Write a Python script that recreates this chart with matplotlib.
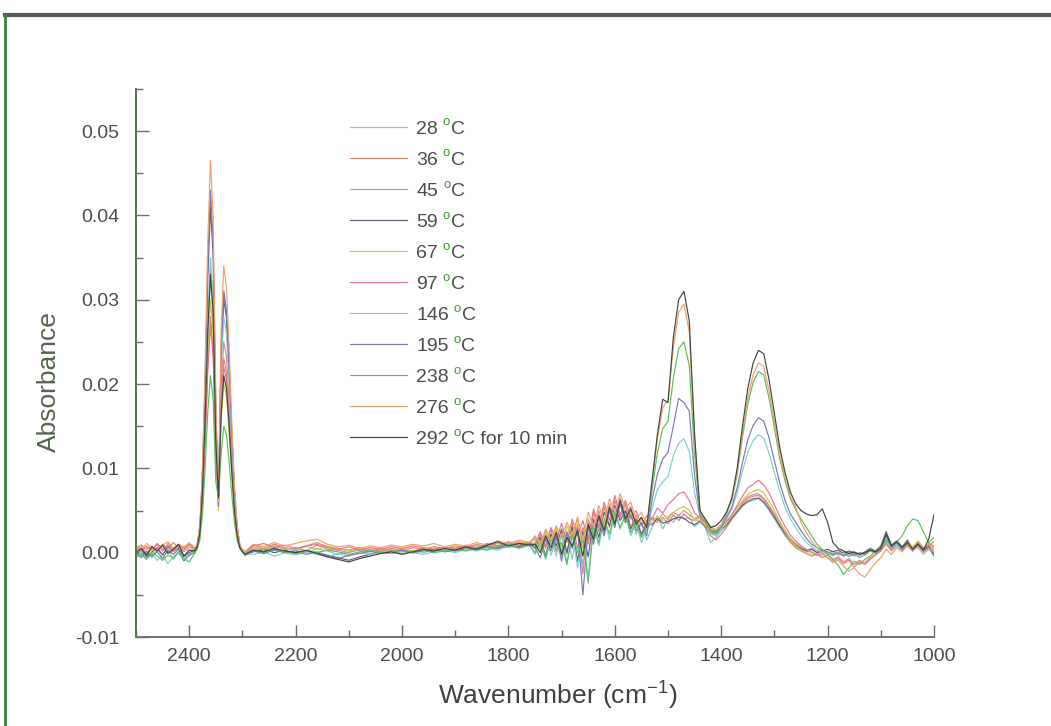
import matplotlib
matplotlib.use("Agg")
import matplotlib.pyplot as plt
from matplotlib.ticker import MultipleLocator, FormatStrFormatter
from matplotlib.lines import Line2D
import matplotlib.transforms as mtransforms

plt.rcParams['font.family'] = ['Liberation Sans', 'DejaVu Sans']
plt.rcParams['mathtext.fontset'] = 'custom'
plt.rcParams['mathtext.rm'] = 'Liberation Sans'
plt.rcParams['mathtext.it'] = 'Liberation Sans'

# wavenumber grid (cm-1), shared by all spectra
wavenumber = [
    2500, 2490, 2480, 2470, 2460, 2450, 2440, 2430, 2420, 2410, 2400, 2390,
    2385, 2380, 2375, 2370, 2365, 2360, 2355, 2350, 2345, 2340, 2335, 2330,
    2325, 2320, 2315, 2310, 2305, 2300, 2295,
    2280, 2260, 2240, 2220, 2200, 2180, 2160, 2140, 2120, 2100, 2080, 2060,
    2040, 2020, 2000, 1980, 1960, 1940, 1920, 1900, 1880, 1860, 1840, 1820,
    1800, 1780, 1760,
    1750, 1740, 1730, 1720, 1710, 1700, 1690, 1680, 1670, 1660, 1650, 1640,
    1630, 1620, 1610, 1600, 1590, 1580, 1570, 1560, 1550, 1540,
    1530, 1520, 1510, 1500, 1490, 1480, 1470, 1460, 1450, 1440, 1430, 1420,
    1410, 1400, 1390, 1380, 1370, 1360, 1350, 1340, 1330, 1320, 1310, 1300,
    1290, 1280, 1270, 1260,
    1250, 1240, 1230, 1220, 1210, 1200, 1190, 1180, 1170, 1160, 1150, 1140,
    1130, 1120, 1110, 1100, 1090, 1080, 1070, 1060, 1050, 1040, 1030, 1020,
    1010, 1000,
]

a_28 = [
    0.0002, -0.0004, 0.0001, -0.0006, 0.0003, -0.0002, 0.0004, -0.0008, 0.0000, -0.0005, -0.0003, 0.0002,
    0.0007, 0.0025, 0.0077, 0.0168, 0.0280, 0.0350, 0.0301, 0.0140, 0.0065, 0.0242, 0.0310, 0.0288, 0.0223, 0.0143, 0.0074, 0.0031, 0.0009, 0.0003, -0.0002,
    0.0004, 0.0002, 0.0006, 0.0001, 0.0003, 0.0000, 0.0005, 0.0002, -0.0002, 0.0001, 0.0003, -0.0001, 0.0002, 0.0004, 0.0001, 0.0003, 0.0000, 0.0004, 0.0002, 0.0005, 0.0003, 0.0007, 0.0004, 0.0009, 0.0006, 0.0011, 0.0008,
    0.0012, 0.0004, 0.0020, -0.0003, 0.0015, 0.0002, 0.0026, -0.0008, 0.0030, -0.0015, 0.0038, 0.0012, 0.0045, 0.0020, 0.0052, 0.0035, 0.0060, 0.0038, 0.0050, 0.0022, 0.0035, 0.0015,
    0.0030, 0.0044, 0.0028, 0.0041, 0.0036, 0.0045, 0.0039, 0.0042, 0.0031, 0.0036, 0.0030, 0.0012, 0.0018, 0.0026, 0.0031, 0.0040, 0.0047, 0.0055, 0.0060, 0.0062, 0.0064, 0.0059, 0.0050, 0.0040, 0.0030, 0.0020, 0.0012, 0.0006,
    0.0004, 0.0002, 0.0000, -0.0002, 0.0001, -0.0001, -0.0004, 0.0000, -0.0003, 0.0001, -0.0002, -0.0006, -0.0003, 0.0002, -0.0001, 0.0004, 0.0012, 0.0003, 0.0008, 0.0002, 0.0010, 0.0004, 0.0012, 0.0001, 0.0007, 0.0003,
]

a_36 = [
    0.0006, 0.0009, 0.0004, 0.0008, 0.0002, 0.0010, 0.0005, 0.0012, 0.0006, 0.0003, 0.0009, 0.0004,
    0.0006, 0.0020, 0.0062, 0.0134, 0.0224, 0.0280, 0.0241, 0.0112, 0.0070, 0.0179, 0.0230, 0.0214, 0.0166, 0.0106, 0.0055, 0.0023, 0.0007, 0.0004, 0.0001,
    0.0009, 0.0005, 0.0010, 0.0006, 0.0004, 0.0008, 0.0012, 0.0007, 0.0005, 0.0003, 0.0006, 0.0004, 0.0002, 0.0005, 0.0003, 0.0006, 0.0004, 0.0007, 0.0005, 0.0008, 0.0006, 0.0010, 0.0007, 0.0012, 0.0009, 0.0013, 0.0010,
    0.0008, 0.0022, 0.0005, 0.0028, 0.0001, 0.0024, -0.0002, 0.0035, 0.0005, 0.0030, 0.0010, 0.0048, 0.0025, 0.0055, 0.0030, 0.0062, 0.0042, 0.0058, 0.0030, 0.0045, 0.0020, 0.0038,
    0.0040, 0.0036, 0.0042, 0.0034, 0.0045, 0.0038, 0.0046, 0.0040, 0.0038, 0.0043, 0.0030, 0.0020, 0.0015, 0.0022, 0.0030, 0.0040, 0.0049, 0.0058, 0.0064, 0.0067, 0.0068, 0.0063, 0.0055, 0.0045, 0.0033, 0.0022, 0.0013, 0.0006,
    0.0002, -0.0001, -0.0004, -0.0002, -0.0006, -0.0003, -0.0008, -0.0005, -0.0011, -0.0007, -0.0014, -0.0009, -0.0012, -0.0006, -0.0002, 0.0003, 0.0010, 0.0002, 0.0009, 0.0003, 0.0011, 0.0005, 0.0013, 0.0004, 0.0010, 0.0006,
]

a_45 = [
    0.0003, 0.0007, -0.0001, 0.0005, 0.0009, 0.0002, 0.0011, 0.0004, 0.0008, 0.0001, 0.0006, 0.0005,
    0.0007, 0.0023, 0.0073, 0.0158, 0.0264, 0.0330, 0.0284, 0.0132, 0.0060, 0.0195, 0.0250, 0.0233, 0.0180, 0.0115, 0.0060, 0.0025, 0.0008, 0.0002, 0.0000,
    0.0006, 0.0003, 0.0008, 0.0004, 0.0006, 0.0002, 0.0009, 0.0004, 0.0003, 0.0000, 0.0004, 0.0001, 0.0005, 0.0002, 0.0004, 0.0001, 0.0006, 0.0003, 0.0007, 0.0004, 0.0008, 0.0005, 0.0010, 0.0006, 0.0012, 0.0008, 0.0011,
    0.0018, 0.0006, 0.0025, 0.0010, 0.0030, -0.0004, 0.0020, 0.0008, 0.0033, -0.0025, 0.0040, 0.0022, 0.0050, 0.0028, 0.0058, 0.0040, 0.0065, 0.0045, 0.0055, 0.0032, 0.0042, 0.0026,
    0.0042, 0.0038, 0.0046, 0.0040, 0.0048, 0.0044, 0.0050, 0.0045, 0.0040, 0.0044, 0.0039, 0.0031, 0.0027, 0.0033, 0.0037, 0.0045, 0.0053, 0.0060, 0.0066, 0.0069, 0.0070, 0.0065, 0.0056, 0.0046, 0.0036, 0.0026, 0.0017, 0.0011,
    0.0007, 0.0003, 0.0005, 0.0001, 0.0003, -0.0001, 0.0002, -0.0002, 0.0001, -0.0004, -0.0001, -0.0005, 0.0000, 0.0004, 0.0001, 0.0007, 0.0016, 0.0006, 0.0011, 0.0004, 0.0013, 0.0007, 0.0009, 0.0002, 0.0011, 0.0008,
]

a_59 = [
    -0.0002, 0.0003, -0.0005, 0.0001, 0.0006, -0.0003, 0.0008, 0.0002, 0.0005, -0.0004, 0.0000, 0.0003,
    0.0008, 0.0029, 0.0090, 0.0197, 0.0328, 0.0410, 0.0353, 0.0164, 0.0055, 0.0234, 0.0300, 0.0279, 0.0216, 0.0138, 0.0072, 0.0030, 0.0009, 0.0001, -0.0003,
    0.0001, 0.0004, 0.0000, 0.0003, -0.0001, 0.0002, 0.0000, -0.0003, -0.0006, -0.0009, -0.0005, -0.0002, 0.0001, -0.0001, 0.0002, 0.0000, 0.0003, 0.0001, 0.0004, 0.0002, 0.0005, 0.0003, 0.0008, 0.0005, 0.0010, 0.0007, 0.0012,
    0.0005, 0.0018, -0.0004, 0.0022, 0.0008, 0.0028, 0.0000, 0.0030, -0.0010, 0.0025, -0.0005, 0.0040, 0.0018, 0.0048, 0.0032, 0.0056, 0.0038, 0.0050, 0.0028, 0.0040, 0.0022, 0.0034,
    0.0033, 0.0041, 0.0035, 0.0037, 0.0040, 0.0042, 0.0041, 0.0036, 0.0033, 0.0038, 0.0032, 0.0024, 0.0022, 0.0028, 0.0033, 0.0041, 0.0049, 0.0056, 0.0061, 0.0064, 0.0065, 0.0060, 0.0052, 0.0042, 0.0032, 0.0023, 0.0015, 0.0009,
    0.0005, 0.0002, 0.0004, 0.0000, 0.0002, 0.0004, 0.0001, 0.0003, -0.0001, 0.0002, 0.0000, -0.0002, 0.0001, 0.0005, 0.0002, 0.0008, 0.0025, 0.0009, 0.0014, 0.0007, 0.0015, 0.0004, 0.0012, 0.0003, 0.0008, -0.0002,
]

a_67 = [
    0.0004, 0.0001, 0.0006, -0.0002, 0.0004, 0.0008, 0.0001, 0.0006, 0.0003, 0.0007, 0.0002, 0.0005,
    0.0006, 0.0021, 0.0066, 0.0144, 0.0240, 0.0300, 0.0258, 0.0120, 0.0050, 0.0156, 0.0200, 0.0186, 0.0144, 0.0092, 0.0048, 0.0020, 0.0006, 0.0003, 0.0001,
    0.0007, 0.0004, 0.0009, 0.0005, 0.0003, 0.0007, 0.0004, 0.0008, 0.0005, 0.0002, 0.0005, 0.0003, 0.0006, 0.0003, 0.0005, 0.0002, 0.0004, 0.0006, 0.0003, 0.0007, 0.0005, 0.0009, 0.0006, 0.0011, 0.0008, 0.0010, 0.0013,
    0.0015, 0.0003, 0.0024, 0.0012, 0.0028, 0.0006, 0.0032, 0.0015, 0.0040, 0.0005, 0.0036, 0.0018, 0.0046, 0.0032, 0.0054, 0.0040, 0.0060, 0.0035, 0.0048, 0.0030, 0.0040, 0.0028,
    0.0037, 0.0042, 0.0038, 0.0043, 0.0048, 0.0052, 0.0055, 0.0050, 0.0038, 0.0039, 0.0033, 0.0025, 0.0023, 0.0029, 0.0035, 0.0044, 0.0053, 0.0062, 0.0069, 0.0073, 0.0075, 0.0071, 0.0061, 0.0050, 0.0037, 0.0025, 0.0015, 0.0008,
    0.0003, 0.0000, -0.0003, -0.0001, -0.0004, 0.0000, -0.0002, 0.0001, -0.0003, 0.0000, -0.0004, -0.0001, -0.0003, 0.0002, 0.0000, 0.0005, 0.0011, 0.0004, 0.0009, 0.0005, 0.0012, 0.0007, 0.0014, 0.0006, 0.0010, 0.0004,
]

a_97 = [
    0.0005, 0.0002, 0.0008, 0.0003, 0.0011, 0.0004, 0.0007, 0.0001, 0.0009, 0.0005, 0.0010, 0.0006,
    0.0005, 0.0019, 0.0059, 0.0130, 0.0216, 0.0270, 0.0232, 0.0108, 0.0065, 0.0172, 0.0220, 0.0205, 0.0158, 0.0101, 0.0053, 0.0022, 0.0007, 0.0002, 0.0000,
    0.0008, 0.0011, 0.0006, 0.0009, 0.0005, 0.0008, 0.0010, 0.0006, 0.0004, 0.0007, 0.0003, 0.0006, 0.0004, 0.0007, 0.0005, 0.0008, 0.0006, 0.0004, 0.0007, 0.0005, 0.0009, 0.0006, 0.0011, 0.0008, 0.0013, 0.0009, 0.0012,
    0.0010, 0.0025, 0.0008, 0.0030, 0.0014, 0.0035, 0.0012, 0.0040, 0.0020, 0.0038, 0.0015, 0.0052, 0.0030, 0.0060, 0.0038, 0.0068, 0.0045, 0.0062, 0.0040, 0.0050, 0.0032, 0.0044,
    0.0040, 0.0053, 0.0047, 0.0057, 0.0063, 0.0070, 0.0072, 0.0062, 0.0047, 0.0041, 0.0036, 0.0027, 0.0025, 0.0031, 0.0037, 0.0045, 0.0056, 0.0067, 0.0077, 0.0081, 0.0086, 0.0080, 0.0071, 0.0057, 0.0043, 0.0031, 0.0021, 0.0014,
    0.0008, 0.0004, 0.0001, -0.0003, -0.0001, -0.0006, -0.0010, -0.0007, -0.0013, -0.0009, -0.0017, -0.0011, -0.0014, -0.0008, -0.0003, 0.0002, 0.0012, 0.0004, 0.0010, 0.0003, 0.0008, 0.0002, 0.0011, 0.0005, 0.0009, 0.0013,
]

a_146 = [
    -0.0004, 0.0000, -0.0007, -0.0002, -0.0009, -0.0003, -0.0013, -0.0005, -0.0001, -0.0008, -0.0002, 0.0001,
    0.0007, 0.0024, 0.0075, 0.0163, 0.0272, 0.0340, 0.0292, 0.0136, 0.0060, 0.0218, 0.0280, 0.0260, 0.0202, 0.0129, 0.0067, 0.0028, 0.0008, 0.0003, -0.0001,
    -0.0002, 0.0001, -0.0004, 0.0000, -0.0003, 0.0001, -0.0002, -0.0005, -0.0001, -0.0004, 0.0000, -0.0002, 0.0001, -0.0001, 0.0002, 0.0000, -0.0002, 0.0001, 0.0003, 0.0000, 0.0004, 0.0002, 0.0006, 0.0003, 0.0008, 0.0005, 0.0009,
    -0.0002, 0.0012, -0.0008, 0.0016, -0.0004, 0.0020, -0.0012, 0.0024, -0.0018, 0.0020, -0.0030, 0.0034, 0.0008, 0.0042, 0.0015, 0.0050, 0.0028, 0.0046, 0.0020, 0.0036, 0.0012, 0.0028,
    0.0052, 0.0075, 0.0084, 0.0090, 0.0115, 0.0130, 0.0135, 0.0120, 0.0071, 0.0043, 0.0037, 0.0022, 0.0020, 0.0027, 0.0040, 0.0052, 0.0071, 0.0097, 0.0119, 0.0133, 0.0140, 0.0136, 0.0118, 0.0095, 0.0073, 0.0054, 0.0040, 0.0030,
    0.0020, 0.0012, 0.0007, 0.0003, 0.0001, -0.0002, 0.0000, -0.0003, -0.0001, -0.0005, -0.0002, -0.0004, 0.0000, 0.0003, 0.0001, 0.0006, 0.0014, 0.0005, 0.0010, 0.0001, 0.0009, 0.0003, 0.0006, -0.0002, 0.0004, 0.0001,
]

a_195 = [
    -0.0001, -0.0006, 0.0002, -0.0004, 0.0001, -0.0007, 0.0003, -0.0002, 0.0004, -0.0010, -0.0003, 0.0000,
    0.0009, 0.0030, 0.0095, 0.0206, 0.0344, 0.0430, 0.0370, 0.0172, 0.0055, 0.0242, 0.0310, 0.0288, 0.0223, 0.0143, 0.0074, 0.0031, 0.0009, 0.0002, -0.0002,
    0.0002, -0.0001, 0.0003, 0.0000, 0.0002, -0.0002, 0.0001, -0.0004, -0.0007, -0.0003, -0.0001, 0.0002, -0.0001, 0.0001, 0.0003, 0.0000, 0.0002, 0.0004, 0.0001, 0.0003, 0.0006, 0.0004, 0.0007, 0.0005, 0.0009, 0.0006, 0.0010,
    0.0006, -0.0006, 0.0016, 0.0002, 0.0020, -0.0010, 0.0024, 0.0005, 0.0028, -0.0050, 0.0030, 0.0010, 0.0042, 0.0020, 0.0050, 0.0030, 0.0058, 0.0036, 0.0045, 0.0026, 0.0036, 0.0020,
    0.0062, 0.0093, 0.0111, 0.0119, 0.0150, 0.0183, 0.0178, 0.0168, 0.0091, 0.0045, 0.0036, 0.0026, 0.0024, 0.0030, 0.0042, 0.0054, 0.0077, 0.0107, 0.0134, 0.0151, 0.0160, 0.0156, 0.0136, 0.0109, 0.0083, 0.0062, 0.0046, 0.0036,
    0.0026, 0.0017, 0.0010, 0.0006, 0.0003, 0.0001, -0.0002, 0.0000, -0.0004, -0.0001, -0.0003, 0.0000, -0.0002, 0.0003, 0.0000, 0.0005, 0.0020, 0.0006, 0.0012, 0.0004, 0.0010, 0.0002, 0.0009, 0.0001, 0.0006, -0.0004,
]

a_238 = [
    -0.0005, -0.0002, -0.0008, 0.0000, -0.0004, -0.0009, -0.0003, -0.0006, 0.0001, -0.0007, -0.0011, -0.0001,
    0.0004, 0.0015, 0.0046, 0.0101, 0.0168, 0.0210, 0.0181, 0.0084, 0.0065, 0.0117, 0.0150, 0.0140, 0.0108, 0.0069, 0.0036, 0.0015, 0.0005, 0.0001, -0.0001,
    0.0003, 0.0000, 0.0004, 0.0001, -0.0001, 0.0002, 0.0000, 0.0003, 0.0001, -0.0002, 0.0001, 0.0003, 0.0000, 0.0002, -0.0001, 0.0001, 0.0003, 0.0000, 0.0002, 0.0004, 0.0002, 0.0005, 0.0003, 0.0007, 0.0010, 0.0006, 0.0009,
    0.0000, 0.0014, -0.0006, 0.0018, 0.0004, 0.0012, -0.0014, 0.0022, 0.0000, 0.0016, -0.0036, 0.0030, 0.0012, 0.0040, 0.0022, 0.0048, 0.0030, 0.0044, 0.0024, 0.0035, 0.0018, 0.0030,
    0.0074, 0.0118, 0.0147, 0.0156, 0.0207, 0.0242, 0.0250, 0.0222, 0.0116, 0.0048, 0.0037, 0.0027, 0.0026, 0.0031, 0.0046, 0.0062, 0.0093, 0.0137, 0.0176, 0.0202, 0.0215, 0.0211, 0.0183, 0.0148, 0.0112, 0.0085, 0.0064, 0.0051,
    0.0040, 0.0030, 0.0020, 0.0010, 0.0004, -0.0002, -0.0008, -0.0015, -0.0026, -0.0018, -0.0010, -0.0014, -0.0008, -0.0004, 0.0002, 0.0006, 0.0015, 0.0008, 0.0013, 0.0020, 0.0032, 0.0040, 0.0038, 0.0025, 0.0012, 0.0018,
]

a_276 = [
    0.0008, 0.0004, 0.0011, 0.0006, 0.0003, 0.0009, 0.0013, 0.0005, 0.0010, 0.0007, 0.0012, 0.0006,
    0.0009, 0.0033, 0.0102, 0.0223, 0.0372, 0.0465, 0.0400, 0.0186, 0.0060, 0.0265, 0.0340, 0.0316, 0.0245, 0.0156, 0.0082, 0.0034, 0.0010, 0.0004, 0.0001,
    0.0010, 0.0007, 0.0012, 0.0008, 0.0011, 0.0014, 0.0016, 0.0010, 0.0007, 0.0009, 0.0005, 0.0008, 0.0006, 0.0009, 0.0007, 0.0010, 0.0008, 0.0011, 0.0007, 0.0010, 0.0008, 0.0012, 0.0009, 0.0014, 0.0011, 0.0015, 0.0012,
    0.0020, 0.0010, 0.0028, 0.0015, 0.0032, 0.0018, 0.0036, 0.0022, 0.0042, 0.0015, 0.0048, 0.0030, 0.0056, 0.0036, 0.0064, 0.0048, 0.0070, 0.0052, 0.0060, 0.0040, 0.0048, 0.0034,
    0.0082, 0.0134, 0.0172, 0.0181, 0.0243, 0.0285, 0.0295, 0.0262, 0.0134, 0.0049, 0.0038, 0.0029, 0.0027, 0.0033, 0.0047, 0.0063, 0.0096, 0.0142, 0.0184, 0.0211, 0.0225, 0.0221, 0.0192, 0.0155, 0.0117, 0.0089, 0.0067, 0.0054,
    0.0036, 0.0024, 0.0014, 0.0006, 0.0000, -0.0006, -0.0012, -0.0009, -0.0016, -0.0022, -0.0018, -0.0025, -0.0029, -0.0020, -0.0012, -0.0006, 0.0004, -0.0002, 0.0006, 0.0001, 0.0009, 0.0003, 0.0007, 0.0000, 0.0005, 0.0002,
]

a_292 = [
    0.0000, 0.0005, -0.0003, 0.0007, 0.0002, 0.0009, -0.0001, 0.0004, 0.0010, -0.0004, 0.0003, 0.0002,
    0.0007, 0.0023, 0.0073, 0.0158, 0.0264, 0.0330, 0.0284, 0.0132, 0.0065, 0.0164, 0.0210, 0.0195, 0.0151, 0.0097, 0.0050, 0.0021, 0.0006, 0.0001, -0.0002,
    0.0003, 0.0001, 0.0005, 0.0002, 0.0000, 0.0003, -0.0001, -0.0005, -0.0008, -0.0011, -0.0007, -0.0004, -0.0001, 0.0001, -0.0002, 0.0001, 0.0004, 0.0002, 0.0005, 0.0003, 0.0007, 0.0004, 0.0009, 0.0013, 0.0008, 0.0011, 0.0009,
    0.0010, 0.0000, 0.0020, 0.0006, 0.0024, -0.0002, 0.0018, 0.0008, 0.0026, -0.0004, 0.0034, 0.0016, 0.0044, 0.0026, 0.0054, 0.0034, 0.0062, 0.0040, 0.0052, 0.0034, 0.0042, 0.0030,
    0.0085, 0.0140, 0.0182, 0.0178, 0.0255, 0.0300, 0.0310, 0.0275, 0.0140, 0.0050, 0.0040, 0.0030, 0.0032, 0.0038, 0.0048, 0.0065, 0.0100, 0.0150, 0.0195, 0.0225, 0.0240, 0.0236, 0.0205, 0.0165, 0.0125, 0.0095, 0.0072, 0.0058,
    0.0050, 0.0046, 0.0044, 0.0045, 0.0052, 0.0036, 0.0012, 0.0005, 0.0002, -0.0001, 0.0001, -0.0002, 0.0000, 0.0003, 0.0001, 0.0005, 0.0022, 0.0008, 0.0013, 0.0006, 0.0012, 0.0004, 0.0010, 0.0003, 0.0016, 0.0045,
]

temperatures = ["28", "36", "45", "59", "67", "97", "146", "195", "238", "276", "292"]
label_tails = ["C", "C", "C", "C", "C", "C", "C", "C", "C", "C", "C for 10 min"]
spectra = [a_28, a_36, a_45, a_59, a_67, a_97, a_146, a_195, a_238, a_276, a_292]
line_colors = ["#8cc3d0", "#e2846c", "#d98a9c", "#5e5e7c", "#c9cc3c", "#e8738f",
               "#7dd0cc", "#7b79b8", "#5cbf5c", "#f0a06c", "#3f463f"]

for s in spectra:
    assert len(s) == len(wavenumber), len(s)

W_PX, H_PX = 1051, 726
fig = plt.figure(figsize=(W_PX / 100, H_PX / 100), dpi=100)
fig.patch.set_facecolor("white")

# outer frame of the figure (top and left edges)
fig.add_artist(Line2D([5 / W_PX, 1.01], [1 - 15 / H_PX, 1 - 15 / H_PX],
                      transform=fig.transFigure, color="#505a50", lw=3))
fig.add_artist(Line2D([5 / W_PX, 5 / W_PX], [-0.01, 1 - 15 / H_PX],
                      transform=fig.transFigure, color="#3f7f3f", lw=2))

ax_l, ax_r, ax_t, ax_b = 136, 934, 89, 637
ax = fig.add_axes([ax_l / W_PX, 1 - ax_b / H_PX, (ax_r - ax_l) / W_PX, (ax_b - ax_t) / H_PX])

handles = []
for temp, s, c in zip(temperatures, spectra, line_colors):
    h, = ax.plot(wavenumber, s, color=c, lw=0.85)
    handles.append(h)

ax.set_xlim(2500, 1000)
ax.set_ylim(-0.01, 0.055)
ax.xaxis.set_major_locator(MultipleLocator(200))
ax.xaxis.set_minor_locator(MultipleLocator(100))
ax.yaxis.set_major_locator(MultipleLocator(0.01))
ax.yaxis.set_minor_locator(MultipleLocator(0.005))
ax.yaxis.set_major_formatter(FormatStrFormatter("%.2f"))

for side in ("top", "right"):
    ax.spines[side].set_visible(False)
ax.spines["left"].set_color("#4e7a46")
ax.spines["bottom"].set_color("#6e726e")
ax.spines["left"].set_linewidth(1.4)
ax.spines["bottom"].set_linewidth(1.4)

tick_col = "#4a4f4a"
ax.tick_params(axis="both", which="both", direction="in", colors="#6a6e6a")
ax.tick_params(axis="both", which="major", length=9, width=1.0, labelsize=14, labelcolor=tick_col)
ax.tick_params(axis="both", which="minor", length=5, width=1.0)
ax.tick_params(axis="y", which="major", pad=12)
ax.tick_params(axis="x", which="major", pad=8)

ax.set_ylabel("Absorbance", fontsize=19, color="#55654f")
ax.yaxis.set_label_coords(-0.094, 0.467)
ax.set_xlabel("Wavenumber (cm$^{\\mathregular{-1}}$)", fontsize=19, color="#3e423e")
ax.xaxis.set_label_coords(0.528, -0.078)

leg_fs = 14
leg = ax.legend(handles, temperatures, loc="upper left",
                bbox_to_anchor=(350 / W_PX, 1 - 120 / H_PX), bbox_transform=fig.transFigure,
                frameon=False, fontsize=leg_fs, borderpad=0, borderaxespad=0,
                handlelength=2.95, handletextpad=0.45, labelspacing=0.69)
for t in leg.get_texts():
    t.set_color(tick_col)

# degree sign as a raised green "o", followed by the unit text
fig.canvas.draw()
renderer = fig.canvas.get_renderer()
fs_px = leg_fs * 100 / 72
for t, tail in zip(leg.get_texts(), label_tails):
    bb = t.get_window_extent(renderer)
    x0, y0 = t.get_transform().transform(t.get_position())
    ox = bb.x1 + 0.26 * fs_px
    o = fig.text(ox, y0 + 0.42 * fs_px, "o", transform=mtransforms.IdentityTransform(),
                 fontsize=leg_fs * 0.68, color="#3c9a2c", ha="left", va="baseline")
    ob = o.get_window_extent(renderer)
    fig.text(ob.x1 + 0.03 * fs_px, y0, tail, transform=mtransforms.IdentityTransform(),
             fontsize=leg_fs, color=tick_col, ha="left", va="baseline")

fig.savefig("out.png", dpi=100)
